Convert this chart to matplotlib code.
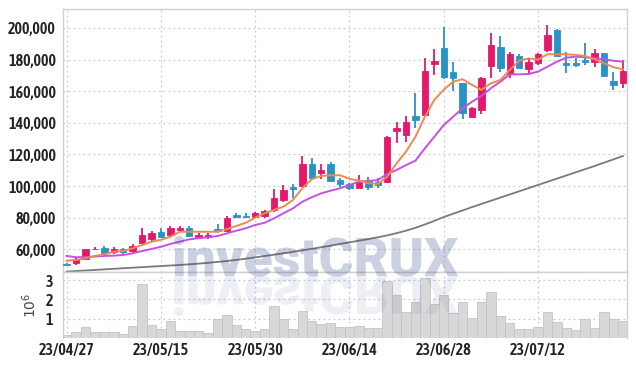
import matplotlib
matplotlib.use("Agg")
import matplotlib.pyplot as plt
import numpy as np
from matplotlib import font_manager
from matplotlib.textpath import TextPath
from matplotlib.patches import PathPatch
from matplotlib.font_manager import FontProperties
from matplotlib.path import Path
from matplotlib.ticker import FuncFormatter, FixedLocator

dates = ["23/04/27", "23/04/28", "23/05/02", "23/05/03", "23/05/04", "23/05/08", "23/05/09", "23/05/10", "23/05/11", "23/05/12",
         "23/05/15", "23/05/16", "23/05/17", "23/05/18", "23/05/19", "23/05/22", "23/05/23", "23/05/24", "23/05/25", "23/05/26",
         "23/05/30", "23/05/31", "23/06/01", "23/06/02", "23/06/05", "23/06/07", "23/06/08", "23/06/09", "23/06/12", "23/06/13",
         "23/06/14", "23/06/15", "23/06/16", "23/06/19", "23/06/20", "23/06/21", "23/06/22", "23/06/23", "23/06/26", "23/06/27",
         "23/06/28", "23/06/29", "23/06/30", "23/07/03", "23/07/04", "23/07/05", "23/07/06", "23/07/07", "23/07/10", "23/07/11",
         "23/07/12", "23/07/13", "23/07/14", "23/07/17", "23/07/18", "23/07/19", "23/07/20", "23/07/21", "23/07/24", "23/07/25"]

opens = [51000, 51500, 54000, 59900, 60800, 58000, 60200, 59000, 64300, 66300,
         71000, 68800, 72300, 73500, 67600, 67700, 72800, 71800, 81400, 81000,
         80500, 81300, 84900, 91200, 99400, 100000, 114000, 108500, 114000, 103700,
         101300, 99000, 103000, 102600, 102600, 135000, 132500, 144300, 145200, 177200,
         187300, 172000, 165000, 143900, 148300, 176200, 188000, 171000, 182300, 174300,
         178000, 186100, 198700, 177800, 178000, 180000, 178700, 184200, 166500, 165400]
highs = [51500, 55000, 60500, 61400, 62000, 61500, 61000, 63300, 73300, 71600,
         73300, 74700, 75000, 75000, 70500, 70000, 76000, 81300, 82700, 83100,
         83500, 85000, 98300, 100500, 101300, 119000, 117500, 113800, 115300, 105400,
         102000, 107000, 105500, 104800, 131500, 140300, 144200, 158700, 180800, 187000,
         200800, 178300, 165200, 149800, 169200, 196600, 195000, 184600, 183500, 180400,
         184500, 201700, 199600, 185000, 181200, 190300, 186500, 184500, 172400, 179800]
lows = [49800, 50000, 53800, 59600, 57200, 57000, 56800, 58500, 64000, 65000,
        66900, 68000, 71000, 67500, 66500, 66300, 70500, 71500, 80000, 79500,
        79800, 80000, 83800, 90200, 92700, 99200, 104000, 104700, 102800, 99500,
        97200, 98800, 97500, 99000, 101700, 127000, 127900, 136500, 144000, 170300,
        168000, 160300, 142200, 143000, 145400, 168600, 172400, 168200, 174500, 170300,
        176400, 185000, 182000, 171300, 175500, 176600, 175100, 169700, 160600, 162200]
closes = [50000, 53600, 60200, 60300, 57500, 60000, 58400, 61900, 68800, 70000,
          68000, 73300, 73500, 68500, 69000, 68800, 71500, 80000, 80600, 80200,
          82900, 84300, 92200, 97300, 98000, 114000, 105300, 110200, 103400, 101000,
          98500, 102400, 99700, 100800, 131200, 137000, 140500, 142000, 172800, 178900,
          168800, 168600, 146400, 149400, 168400, 189200, 175000, 183500, 175000, 178500,
          183500, 195600, 182300, 176800, 176700, 178400, 184000, 169800, 164200, 172800]
volumes = [160000, 330000, 590000, 330000, 330000, 330000, 220000, 640000, 2810000, 690000,
           480000, 900000, 380000, 380000, 380000, 280000, 1000000, 1210000, 690000, 480000,
           380000, 480000, 1670000, 1000000, 480000, 1410000, 860000, 740000, 790000, 590000,
           590000, 640000, 530000, 530000, 2970000, 2210000, 1330000, 1840000, 3120000, 1740000,
           2210000, 1280000, 1880000, 1050000, 1840000, 2400000, 1160000, 760000, 480000, 480000,
           590000, 1360000, 840000, 530000, 430000, 1000000, 530000, 1360000, 1000000, 860000]
ma_short = [52800, 53200, 54300, 55800, 56800, 58500, 58900, 60600, 62700, 64800,
            66000, 68000, 71100, 71100, 71100, 71100, 71100, 72700, 74800, 76800,
            80000, 82800, 84900, 87000, 91200, 98600, 104300, 106400, 106800, 106800,
            104600, 103400, 101800, 101300, 105900, 114400, 121800, 131200, 143900, 154500,
            161000, 166000, 167600, 164000, 160800, 165000, 167100, 173400, 179300, 180800,
            180000, 183400, 183400, 183400, 183000, 182300, 180200, 177700, 175200, 173900]
ma_mid = [55800, 55000, 55000, 55400, 55800, 56000, 56400, 57500, 58900, 60200,
          61600, 63400, 64800, 66300, 67000, 67600, 68400, 70100, 71800, 73300,
          75400, 76800, 79600, 82800, 85900, 90100, 92900, 95400, 97100, 98600,
          100700, 102800, 103200, 103800, 107600, 110200, 113300, 116100, 123900, 131200,
          138600, 143900, 149200, 153400, 157000, 161900, 166000, 170700, 170700, 170900,
          172400, 175500, 178700, 181200, 181900, 181500, 180800, 180200, 179300, 178700]
ma_long = [45900, 46250, 46600, 46950, 47300, 47650, 48000, 48350, 48700, 49050,
           49400, 49750, 50100, 50500, 50950, 51450, 52000, 52600, 53300, 54050,
           54900, 55750, 56600, 57500, 58400, 59350, 60300, 61300, 62300, 63350,
           64400, 65450, 66500, 67600, 68800, 70200, 71800, 73600, 75700, 78000,
           80400, 82500, 84600, 86700, 88700, 90700, 92700, 94700, 96700, 98700,
           100700, 102700, 104700, 106700, 108700, 110700, 112700, 114800, 116900, 119000]
price_ticks = [60000, 80000, 100000, 120000, 140000, 160000, 180000, 200000]
vol_ticks = [1, 2, 3]
date_tick_idx = [0, 10, 20, 30, 40, 50]
watermark = "investCRUX"

# pick a narrow bold font (not DejaVu) if installed, otherwise Roboto bold
cands = []
for f in font_manager.fontManager.ttflist:
    fn = f.fname.lower()
    if ("condensed" in fn or "narrow" in fn) and "dejavu" not in fn and "italic" not in fn and "oblique" not in fn:
        if "bold" in fn or "semibold" in fn or "medium" in fn:
            cands.append(f.fname)
cands.sort(key=lambda s: (0 if "semibold" in s.lower() else (1 if "bold" in s.lower() and "extra" not in s.lower() else 2), s))
if cands:
    tick_fp = FontProperties(fname=cands[0], size=11.5)
else:
    tick_fp = FontProperties(family="Roboto", weight="bold", size=10.2)

UP = "#e5196b"
DOWN = "#2b93c4"
GRID = "#c9c9d9"
SPINE = "#d0d0d0"

fig = plt.figure(figsize=(6.36, 3.66), dpi=100)
fig.patch.set_facecolor("white")
W, H = 636.0, 366.0
left, right = 63 / W, 627 / W
ax = fig.add_axes([left, 1 - 272 / H, right - left, (272 - 9.3) / H])
axv = fig.add_axes([left, 1 - 338 / H, right - left, (338 - 272) / H], sharex=ax)

x = np.arange(len(dates))
o = np.array(opens); c = np.array(closes); h = np.array(highs); l = np.array(lows)
up = c >= o
colors = np.where(up, UP, DOWN)

ax.vlines(x, l, h, colors=colors, linewidth=1.3, zorder=3)
body_bottom = np.minimum(o, c)
body_h = np.maximum(np.abs(c - o), 500)
ax.bar(x, body_h, bottom=body_bottom, width=0.68, color=colors, edgecolor=colors, linewidth=0.6, zorder=4)

ax.plot(x, ma_long, color="#7a7a7a", linewidth=1.3, zorder=2)
ax.plot(x, ma_mid, color="#c94fe6", linewidth=1.4, zorder=5)
ax.plot(x, ma_short, color="#ef8a4e", linewidth=1.4, zorder=5)

ax.set_xlim(-0.39, 59.44)
ax.set_ylim(45640, 211830)
ax.yaxis.set_major_locator(FixedLocator(price_ticks))
ax.yaxis.set_major_formatter(FuncFormatter(lambda v, p: f"{int(v):,}"))
ax.xaxis.set_major_locator(FixedLocator(date_tick_idx))
ax.grid(True, color=GRID, linestyle=(0, (1.5, 2.5)), linewidth=0.9)
ax.set_axisbelow(True)
ax.tick_params(axis="x", labelbottom=False, length=0)
ax.tick_params(axis="y", length=0, pad=5, colors="#222222")

vol_m = np.array(volumes) / 1e6
axv.bar(x, vol_m, width=1.0, color="#d8d8d8", edgecolor="#c4c4c4", linewidth=0.6, zorder=2)
axv.set_ylim(0, 3.42)
axv.yaxis.set_major_locator(FixedLocator(vol_ticks))
axv.xaxis.set_major_locator(FixedLocator(date_tick_idx))
axv.set_xticklabels([dates[i] for i in date_tick_idx])
axv.grid(True, color=GRID, linestyle=(0, (1.5, 2.5)), linewidth=0.9)
axv.set_axisbelow(True)
axv.tick_params(axis="both", length=0, colors="#222222")
axv.tick_params(axis="x", pad=3)
axv.tick_params(axis="y", pad=7)
axv.set_ylabel(r"$10^6$", fontsize=10, color="#444444", labelpad=5)

for a in (ax, axv):
    for s in a.spines.values():
        s.set_color(SPINE)
        s.set_linewidth(1.0)
    for lab in a.get_xticklabels() + a.get_yticklabels():
        lab.set_fontproperties(tick_fp)
axv.spines["bottom"].set_visible(False)

# watermark (real text) and its mirrored reflection
wm_size = 38.5
wm_fp = FontProperties(family="Roboto", weight="black", size=wm_size)
base_px = 275.0
fig.text(315 / W, 1 - base_px / H, watermark, fontproperties=wm_fp, color="#3b4f91", alpha=0.26,
         ha="center", va="baseline", zorder=10)
tp = TextPath((0, 0), watermark, size=wm_size * 100 / 72.0, prop=wm_fp)
verts = tp.vertices.copy()
cx = (verts[:, 0].min() + verts[:, 0].max()) / 2.0
fx = verts[:, 0] - cx + 315.0
fy = verts[:, 1]
refl = Path(np.column_stack([fx / W, 1 - (base_px + 1 + fy) / H]), tp.codes)
fig.add_artist(PathPatch(refl, transform=fig.transFigure, facecolor="#3b4f91", edgecolor="none", alpha=0.09, zorder=10))

fig.savefig("out.png", dpi=100, facecolor="white")
